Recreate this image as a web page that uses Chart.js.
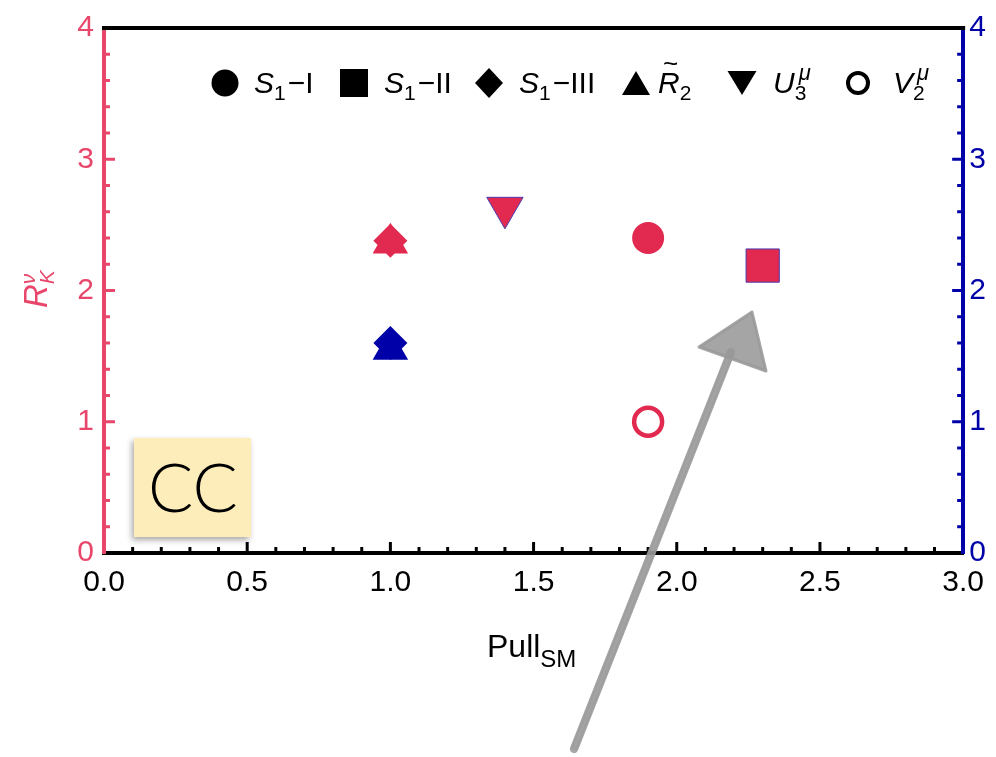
<!DOCTYPE html>
<html>
<head>
<meta charset="utf-8">
<script src="https://cdn.jsdelivr.net/npm/chart.js@4.4.1/dist/chart.umd.min.js"></script>
<style>
  html, body { margin: 0; padding: 0; background: #fff; }
  #wrap { width: 996px; height: 757px; position: relative; }
</style>
</head>
<body>
<div id="wrap"><canvas id="chart" width="996" height="757"></canvas></div>
<script>
// values
const models = ['S1-I', 'S1-II', 'S1-III', 'R2', 'U3', 'V2'];
const pullSM = [1.9, 2.3, 1.0, 1.0, 1.4, 1.9];
const rkLeft = [2.40, 2.19, 2.38, 2.36, 2.63, 1.00];
const rightModels = ['S1-III', 'R2'];
const pullRight = [1.0, 1.0];
const rkRight = [1.60, 1.55];
const xTicks = [0, 0.5, 1.0, 1.5, 2.0, 2.5, 3.0];
const yTicks = [0, 1, 2, 3, 4];

const PINK = '#e22a50';
const PINK_AXIS = '#e8466a';
const BLUE = '#0000a8';
const EDGE = '#4a3aae';
const FONT = '"Liberation Sans", Arial, Helvetica, sans-serif';

// marker look per model
const marks = {
    'S1-I':   { style: 'circle',   rot: 0,   r: 16 },
    'S1-II':  { style: 'rect',     rot: 0,   r: 23.5, edge: true },
    'S1-III': { style: 'rectRot',  rot: 0,   r: 17 },
    'R2':     { style: 'triangle', rot: 0,   r: 20.5 },
    'U3':     { style: 'triangle', rot: 180, r: 21, edge: true },
    'V2':     { style: 'circle',   rot: 0,   r: 14, open: true }
};

function pointSet(label, x, y, axis, color, mk) {
    return {
        label, yAxisID: axis,
        data: [{ x, y }],
        showLine: false,
        pointStyle: mk.style,
        pointRotation: mk.rot,
        pointRadius: mk.r,
        pointHoverRadius: mk.r,
        pointBackgroundColor: mk.open ? 'rgba(0,0,0,0)' : color,
        pointBorderColor: mk.edge ? EDGE : color,
        pointBorderWidth: mk.open ? 4.5 : (mk.edge ? 1 : 0),
        pointHoverBorderWidth: mk.open ? 4.5 : (mk.edge ? 1 : 0)
    };
}

const datasets = models.map((m, i) => pointSet(m, pullSM[i], rkLeft[i], 'y', PINK, marks[m]));
rightModels.forEach((m, i) => datasets.push(pointSet(m + ' (right)', pullRight[i], rkRight[i], 'y2', BLUE, marks[m])));

function drawRich(ctx, parts, x, y) {
    let cx = x;
    for (const p of parts) {
        ctx.font = (p.it ? 'italic ' : '') + p.size + 'px ' + FONT;
        ctx.fillText(p.t, cx + (p.dx || 0), y + (p.dy || 0));
        if (!p.hold) cx += ctx.measureText(p.t).width + (p.gap || 0);
    }
    return cx;
}

function legendShape(ctx, shape, x, y) {
    ctx.beginPath();
    if (shape === 'circle') {
        ctx.arc(x, y, 13.5, 0, Math.PI * 2); ctx.fill();
    } else if (shape === 'square') {
        ctx.fillRect(x - 14, y - 14, 28, 28);
    } else if (shape === 'diamond') {
        ctx.moveTo(x, y - 15); ctx.lineTo(x + 14, y); ctx.lineTo(x, y + 15); ctx.lineTo(x - 14, y);
        ctx.closePath(); ctx.fill();
    } else if (shape === 'up') {
        ctx.moveTo(x, y - 12); ctx.lineTo(x + 14, y + 12); ctx.lineTo(x - 14, y + 12);
        ctx.closePath(); ctx.fill();
    } else if (shape === 'down') {
        ctx.moveTo(x - 14.5, y - 12); ctx.lineTo(x + 14.5, y - 12); ctx.lineTo(x, y + 12);
        ctx.closePath(); ctx.fill();
    } else if (shape === 'ring') {
        ctx.lineWidth = 4;
        ctx.arc(x, y, 10, 0, Math.PI * 2); ctx.stroke();
    }
}

const legendItems = [
    { shape: 'circle',  mx: 225, tx: 254, parts: [{ t: 'S', it: 1, size: 30 }, { t: '1', size: 21, dy: 7, gap: 2 }, { t: '\u2212I', size: 30 }] },
    { shape: 'square',  mx: 354, tx: 384, parts: [{ t: 'S', it: 1, size: 30 }, { t: '1', size: 21, dy: 7, gap: 2 }, { t: '\u2212II', size: 30 }] },
    { shape: 'diamond', mx: 489, tx: 519, parts: [{ t: 'S', it: 1, size: 30 }, { t: '1', size: 21, dy: 7, gap: 2 }, { t: '\u2212III', size: 30 }] },
    { shape: 'up',      mx: 636, tx: 658, tilde: true, parts: [{ t: 'R', it: 1, size: 30 }, { t: '2', size: 21, dy: 7 }] },
    { shape: 'down',    mx: 742, tx: 773, parts: [{ t: 'U', it: 1, size: 30 }, { t: '3', size: 21, dy: 7, hold: 1 }, { t: '\u03bc', it: 1, size: 22, dy: -13, dx: 4 }] },
    { shape: 'ring',    mx: 858, tx: 893, parts: [{ t: 'V', it: 1, size: 30 }, { t: '2', size: 21, dy: 7, hold: 1 }, { t: '\u03bc', it: 1, size: 22, dy: -13, dx: 4 }] }
];

// rough chalk stroke: a few offset passes of the same segment
function chalkLine(ctx, x1, y1, x2, y2, w) {
    const offs = [-3, -1.5, 0, 1.5, 3];
    const nx = -(y2 - y1), ny = x2 - x1;
    const len = Math.hypot(nx, ny);
    offs.forEach((o, i) => {
        const dx = nx / len * o, dy = ny / len * o;
        ctx.globalAlpha = i === 2 ? 0.85 : 0.45;
        ctx.lineWidth = i === 2 ? w : 2.5;
        ctx.beginPath();
        ctx.moveTo(x1 + dx, y1 + dy);
        ctx.lineTo(x2 + dx, y2 + dy);
        ctx.stroke();
    });
    ctx.globalAlpha = 1;
}

const decor = {
    id: 'decor',
    afterDraw(chart) {
        const ctx = chart.ctx;
        const area = chart.chartArea;
        const sx = chart.scales.x, sy = chart.scales.y, sy2 = chart.scales.y2;
        ctx.save();

        // top frame line
        ctx.strokeStyle = '#000';
        ctx.lineWidth = 4;
        ctx.beginPath();
        ctx.moveTo(area.left - 2, area.top);
        ctx.lineTo(area.right + 2, area.top);
        ctx.stroke();

        // inward ticks
        ctx.lineWidth = 3;
        for (let k = 1; k < 30; k++) {
            const px = sx.getPixelForValue(k / 10);
            const len = k % 5 === 0 ? 11 : 6;
            ctx.strokeStyle = '#000';
            ctx.beginPath(); ctx.moveTo(px, area.bottom); ctx.lineTo(px, area.bottom - len); ctx.stroke();
        }
        for (let k = 1; k < 20; k++) {
            const len = k % 5 === 0 ? 11 : 6;
            const py = sy.getPixelForValue(k / 5);
            ctx.strokeStyle = PINK_AXIS;
            ctx.beginPath(); ctx.moveTo(area.left, py); ctx.lineTo(area.left + len, py); ctx.stroke();
            const py2 = sy2.getPixelForValue(k / 5);
            ctx.strokeStyle = BLUE;
            ctx.beginPath(); ctx.moveTo(area.right, py2); ctx.lineTo(area.right - len, py2); ctx.stroke();
        }

        // legend
        ctx.fillStyle = '#000';
        ctx.strokeStyle = '#000';
        ctx.textBaseline = 'alphabetic';
        ctx.textAlign = 'left';
        const ly = 83, base = 93;
        legendItems.forEach(it => {
            legendShape(ctx, it.shape, it.mx, ly);
            drawRich(ctx, it.parts, it.tx, base);
            if (it.tilde) {
                ctx.font = '26px ' + FONT;
                ctx.fillText('~', it.tx + 5, base - 21);
            }
        });

        // axis titles
        ctx.fillStyle = '#000';
        drawRich(ctx, [{ t: 'Pull', size: 32 }, { t: 'SM', size: 24, dy: 10 }], 487, 657);

        ctx.save();
        ctx.translate(47, 308);
        ctx.rotate(-Math.PI / 2);
        ctx.fillStyle = PINK_AXIS;
        drawRich(ctx, [{ t: 'R', it: 1, size: 33 }, { t: 'K', it: 1, size: 21, dy: 7, hold: 1 }, { t: '\u03bd', it: 1, size: 21, dy: -12 }], 0, 0);
        ctx.restore();

        // CC box
        ctx.save();
        ctx.shadowColor = 'rgba(0,0,0,0.35)';
        ctx.shadowBlur = 6;
        ctx.shadowOffsetX = -2;
        ctx.shadowOffsetY = 3;
        ctx.fillStyle = '#fdedbb';
        ctx.fillRect(134, 438, 117, 99);
        ctx.restore();
        ctx.fillStyle = '#000';
        ctx.font = '300 67px Lato, Roboto, "Open Sans", ' + FONT;
        ctx.textAlign = 'center';
        ctx.textBaseline = 'middle';
        ctx.fillText('CC', 193, 490);

        // hand drawn arrow
        ctx.strokeStyle = '#999';
        ctx.fillStyle = '#999';
        ctx.lineCap = 'round';
        ctx.lineJoin = 'round';
        chalkLine(ctx, 574, 749, 731, 352, 8);
        ctx.globalAlpha = 0.88;
        ctx.lineWidth = 3;
        ctx.beginPath();
        ctx.moveTo(752, 312);
        ctx.lineTo(699, 347);
        ctx.lineTo(766, 371);
        ctx.closePath();
        ctx.fill();
        ctx.stroke();

        ctx.restore();
    }
};

const tickFont = { family: FONT, size: 30 };

new Chart(document.getElementById('chart'), {
    type: 'scatter',
    data: { datasets },
    options: {
        responsive: false,
        animation: false,
        devicePixelRatio: 1,
        layout: { padding: { top: 24, left: 0, right: 0, bottom: 0 } },
        plugins: { legend: { display: false }, tooltip: { enabled: false }, title: { display: false } },
        scales: {
            x: {
                type: 'linear', min: 0, max: 3,
                afterBuildTicks: s => { s.ticks = xTicks.map(v => ({ value: v })); },
                afterFit: s => { s.height = 204; },
                ticks: { callback: v => Number(v).toFixed(1), font: tickFont, color: '#000', padding: 12, maxRotation: 0, autoSkip: false },
                grid: { display: false, drawTicks: false },
                border: { display: true, color: '#000', width: 4 }
            },
            y: {
                type: 'linear', position: 'left', min: 0, max: 4,
                afterBuildTicks: s => { s.ticks = yTicks.map(v => ({ value: v })); },
                afterFit: s => { s.width = 104; },
                ticks: { font: tickFont, color: PINK_AXIS, padding: 10, autoSkip: false },
                grid: { display: false, drawTicks: false },
                border: { display: true, color: PINK_AXIS, width: 4 }
            },
            y2: {
                type: 'linear', position: 'right', min: 0, max: 4,
                afterBuildTicks: s => { s.ticks = yTicks.map(v => ({ value: v })); },
                afterFit: s => { s.width = 29; },
                ticks: { font: tickFont, color: BLUE, padding: 6, autoSkip: false },
                grid: { display: false, drawTicks: false },
                border: { display: true, color: BLUE, width: 4 }
            }
        }
    },
    plugins: [decor]
});
</script>
</body>
</html>
